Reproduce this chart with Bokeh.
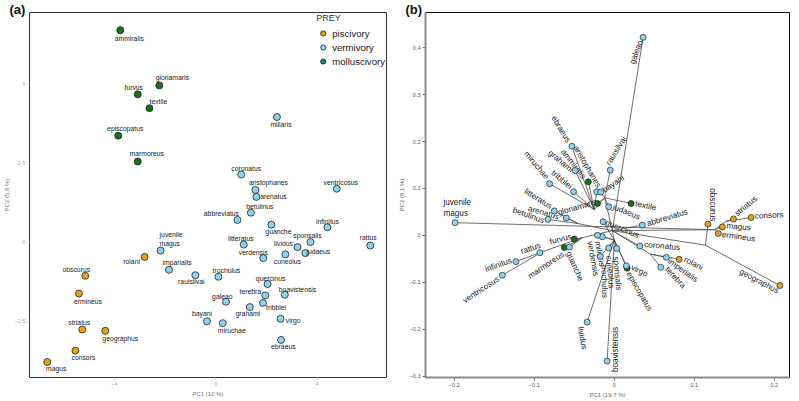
import math
from bokeh.plotting import figure
from bokeh.models import ColumnDataSource, Legend, LegendItem, Title, FixedTicker, Range1d
from bokeh.layouts import row
from bokeh.embed import file_html
from bokeh.resources import INLINE
from bokeh.core.properties import value

# ---------------- data ----------------
species = ["ammiralis", "gloriamaris", "furvus", "textile", "episcopatus", "marmoreus",
           "rolani", "obscurus", "ermineus", "striatus", "geographus", "consors", "magus",
           "juvenile magus", "imperialis", "rauisilvai", "miliaris", "coronatus", "aristophanes",
           "arenatus", "ventricosus", "betulinus", "abbreviatus", "guanche", "infinitus",
           "sponsalis", "rattus", "litteratus", "lividus", "judaeus", "cuneolus", "verdensis",
           "trochulus", "quercinus", "terebra", "boavistensis", "galeao", "grahami", "tribblei",
           "bayani", "miruchae", "virgo", "ebraeus"]
labels_a = [s if s != "imperialis" else "imparialis" for s in species]

diet = (["molluscivory"] * 6) + (["piscivory"] * 7) + (["vermivory"] * 30)

# panel (a): PCA scores
pc1 = [-3.77, -2.23, -3.08, -2.62, -3.85, -3.08,
       -2.81, -5.15, -5.40, -5.27, -4.36, -5.54, -6.65,
       -2.18, -1.85, -0.81, 2.41, 1.00, 1.56, 1.60, 4.77,
       1.38, 0.85, 2.19, 4.40, 3.73, 6.09, 1.10, 3.22, 3.53,
       2.74, 1.87, 0.10, 2.04, 1.95, 2.72, 0.40, 1.34, 1.86,
       -0.35, 0.27, 2.55, 2.57]
pc2 = [6.72, 4.97, 4.69, 4.25, 3.38, 2.56,
       -0.46, -1.06, -1.62, -2.76, -2.80, -3.43, -3.79,
       -0.26, -0.87, -1.04, 3.97, 2.15, 1.66, 1.44, 1.70,
       0.94, 0.71, 0.56, 0.48, 0.01, -0.10, -0.07, -0.15, -0.34,
       -0.38, -0.50, -1.09, -1.32, -1.68, -1.66, -1.88, -2.05, -1.92,
       -2.50, -2.56, -2.42, -3.09]

# panel (b): phylomorphospace tip scores
ph1 = [-0.0325, -0.021, -0.050, 0.021, 0.016, -0.0625,
       0.081, 0.117, 0.130, 0.149, 0.207, 0.171, 0.135,
       -0.199, 0.065, -0.005, -0.015, 0.032, -0.022, -0.060, -0.140,
       -0.083, 0.035, -0.056, -0.123, 0.003, -0.093, -0.075, -0.034, -0.007,
       -0.007, -0.021, -0.0175, -0.014, 0.058, -0.009, 0.036, -0.049, -0.051,
       -0.017, -0.081, 0.015, -0.053]
ph2 = [0.114, 0.068, -0.008, 0.068, -0.070, -0.026,
       -0.051, 0.024, 0.004, 0.035, -0.107, 0.038, 0.018,
       0.027, -0.047, 0.139, -0.003, -0.023, 0.093, 0.037, -0.085,
       0.034, 0.022, -0.025, -0.056, -0.028, -0.037, 0.052, -0.185, 0.061,
       -0.027, 0.000, -0.045, 0.029, -0.068, -0.268, 0.422, 0.138, 0.093,
       0.092, 0.110, -0.065, 0.190]

# internal nodes (ancestral estimates) and tree topology (child -> parent)
node_names = ["R", "O1", "O2", "O3", "P1", "U1", "U3", "L1", "L2", "L3", "M1"]
node_x = [-0.0025, 0.114, 0.140, 0.125, 0.045, -0.012, -0.025, -0.045, -0.040, -0.090, 0.000]
node_y = [0.010, -0.021, 0.030, 0.012, -0.040, 0.080, 0.055, 0.025, -0.005, -0.035, -0.010]
parent = {
    "ammiralis": "U3", "gloriamaris": "U1", "furvus": "L2", "textile": "U1", "episcopatus": "M1",
    "marmoreus": "L2", "rolani": "P1", "obscurus": "O1", "ermineus": "O3", "striatus": "O2",
    "geographus": "O1", "consors": "O2", "magus": "O3", "juvenile magus": "O3",
    "imperialis": "P1", "rauisilvai": "U1", "miliaris": "M1", "coronatus": "R",
    "aristophanes": "U3", "arenatus": "L1", "ventricosus": "L3", "betulinus": "L1",
    "abbreviatus": "R", "guanche": "L2", "infinitus": "L3", "sponsalis": "M1", "rattus": "L3",
    "litteratus": "L1", "lividus": "M1", "judaeus": "U1", "cuneolus": "M1", "verdensis": "M1",
    "trochulus": "M1", "quercinus": "M1", "terebra": "P1", "boavistensis": "M1", "galeao": "R",
    "grahami": "U3", "tribblei": "U3", "bayani": "U1", "miruchae": "U3", "virgo": "M1",
    "ebraeus": "U3",
    "O1": "R", "O2": "O3", "O3": "R", "P1": "R", "U1": "R", "U3": "U1", "L1": "R",
    "L2": "R", "L3": "L2", "M1": "R",
}

# ---------------- styling ----------------
FONT = "Liberation Sans"
pt_color = {"piscivory": "#E2A11E", "vermivory": "#8DD2EE", "molluscivory": "#17701A"}
leg_color = {"piscivory": "#E09F1A", "vermivory": "#8FD3F0", "molluscivory": "#12875C"}
diet_order = ["piscivory", "vermivory", "molluscivory"]

# label placement (screen px offsets from point, y down), panel a
off_a = {
    "ammiralis": (9, 8), "gloriamaris": (13, -8), "furvus": (-4, -7), "textile": (9, -7),
    "episcopatus": (7, -7), "marmoreus": (9, -8), "rolani": (-13, 5), "obscurus": (-9, -6.5),
    "ermineus": (9, 7.5), "striatus": (-3, -6.7), "geographus": (15, 7.4), "consors": (8, 6.5),
    "magus": (9, 6.4), "imperialis": (8, -7), "rauisilvai": (-4, 6.5), "miliaris": (4, 7),
    "coronatus": (5, -6), "aristophanes": (13, -7), "arenatus": (17, 0), "ventricosus": (4, -6),
    "betulinus": (9, -6), "abbreviatus": (-16, -6), "guanche": (7, 7), "infinitus": (0, -5.5),
    "sponsalis": (-3, -6.7), "rattus": (-2, -7.6), "litteratus": (-3, -5.6), "lividus": (-14, -3.4),
    "judaeus": (13, -1.7), "cuneolus": (2, 6.7), "verdensis": (-10, -5.7), "trochulus": (8, -6),
    "quercinus": (3, -6), "terebra": (-15, -4.4), "boavistensis": (12.7, -5.7), "galeao": (-3.7, -5.3),
    "grahami": (-2, 6.7), "tribblei": (13, 5), "bayani": (-5, -7.3), "miruchae": (9, 7),
    "virgo": (12.7, 2), "ebraeus": (2.3, 7),
}
# panel b: (dx, dy, angle in degrees)
off_b = {
    "galeao": (-6.7, 14.7, 70), "rauisilvai": (6, -19.3, 58), "bayani": (12.6, -8.3, 35),
    "ebraeus": (-11, -17, -59), "grahami": (-14.4, -9.3, -40), "tribblei": (-11.8, -11.8, -40),
    "miruchae": (-13, -18.5, -50), "aristophanes": (-9.5, -25, -60), "ammiralis": (-15, -17.7, -52),
    "litteratus": (-16, -12, -32), "arenatus": (-22.7, -5.2, -16), "betulinus": (-19.4, -4, -20),
    "gloriamaris": (-20.3, 3.8, 16), "judaeus": (17.7, 5.3, -22), "textile": (14.6, 2.4, -12),
    "abbreviatus": (25, -7.3, 17), "quercinus": (19, 7.2, -22), "verdensis": (-4.6, 23.3, -80),
    "miliaris": (-2.7, 17, -80), "cuneolus": (1.3, 24, -85), "sponsalis": (0.6, 25, -85),
    "trochulus": (4, 25, -88), "imperialis": (16.6, 13, -35), "terebra": (14.7, 10.3, -47),
    "virgo": (13, 5, -25), "episcopatus": (12.3, 23.3, -60), "boavistensis": (8.3, -11.6, 90),
    "coronatus": (22.2, 0, -5), "ventricosus": (-21.3, 14.6, 33), "infinitus": (-17.4, 3.4, 20),
    "rattus": (-9.2, -4.3, 19), "guanche": (5.3, 19.3, -66), "lividus": (-4.7, 16, -80),
    "furvus": (-13.6, 0, 15), "marmoreus": (-18.3, 17.7, 34), "obscurus": (4.4, -19.3, -90),
    "striatus": (12.4, -12.7, 40), "consors": (18, -2, 3), "magus": (16.3, 0, -5),
    "ermineus": (20.3, 3.3, -8), "geographus": (-20.6, -4.3, -28), "rolani": (14.3, 4.3, -27),
}

H = 400
TOP_A, TOP_B, BOT = 10, 12, 20


def style_axes(p, tick_color, label_color):
    for ax in (p.xaxis, p.yaxis):
        ax.major_label_text_font = FONT
        ax.major_label_text_font_size = "5.5px"
        ax.major_label_text_color = tick_color
        ax.axis_label_text_font = FONT
        ax.axis_label_text_font_size = "6px"
        ax.axis_label_text_font_style = "normal"
        ax.axis_label_text_color = label_color
        ax.minor_tick_line_color = None
        ax.axis_label_standoff = 2
        ax.major_label_standoff = 2


def panel_tag(text, offset):
    return Title(text=text, align="left", offset=offset, standoff=-8,
                 text_font=FONT, text_font_size="13px", text_font_style="bold",
                 text_color="#111111")


# ---------------- panel (a) ----------------
xr_a = Range1d(-7.35, 6.73)
yr_a = Range1d(-4.28, 7.28)
pa = figure(width=395, height=H, output_backend="svg", toolbar_location=None,
            x_range=xr_a, y_range=yr_a,
            min_border_top=TOP_A, min_border_right=9, min_border_left=0, min_border_bottom=BOT)
pa.xgrid.grid_line_color = None
pa.ygrid.grid_line_color = None
pa.outline_line_color = "#333333"
pa.outline_line_width = 1
pa.xaxis.axis_label = "PC1 (10 %)"
pa.yaxis.axis_label = "PC2 (5.8 %)"
pa.xaxis.ticker = FixedTicker(ticks=[-4, 0, 4])
pa.yaxis.ticker = FixedTicker(ticks=[-2.5, 0.0, 2.5, 5.0])
style_axes(pa, "#a8a8a8", "#777777")
pa.xaxis.axis_line_color = None
pa.yaxis.axis_line_color = None
for ax in (pa.xaxis, pa.yaxis):
    ax.major_tick_line_color = "#cccccc"
    ax.major_tick_out = 2
    ax.major_tick_in = 0

src_a = ColumnDataSource(dict(
    x=pc1, y=pc2, name=labels_a,
    color=[pt_color[d] for d in diet],
    dx=[off_a.get(s, (0, 0))[0] for s in species],
    dy=[off_a.get(s, (0, 0))[1] for s in species],
    txt=["" if s == "juvenile magus" else l for s, l in zip(species, labels_a)],
))
pa.scatter("x", "y", source=src_a, size=7, fill_color="color", line_color="#222222", line_width=0.8)
pa.text("x", "y", text="txt", source=src_a, x_offset="dx", y_offset="dy",
        text_align="center", text_baseline="middle", text_font=value(FONT),
        text_font_size="6.8px", text_color="#222222")
jm = species.index("juvenile magus")
pa.text(x=[pc1[jm]], y=[pc2[jm]], text=["juvenile\nmagus"], x_offset=-1, y_offset=-11.5,
        text_align="left", text_baseline="middle", text_font=value(FONT),
        text_font_size="6.8px", text_color="#222222", text_line_height=1.25)

items = []
for d in diet_order:
    # legend-only renderer, placed outside the visible range
    r = pa.scatter([-100], [-100], size=6.5, fill_color=leg_color[d], line_color="#222222", line_width=0.8)
    items.append(LegendItem(label=d, renderers=[r]))
leg = Legend(items=items, location="top_right", title="PREY",
             title_text_font=FONT, title_text_font_size="9px", title_text_font_style="normal",
             title_text_color="#333333", title_standoff=3,
             label_text_font=FONT, label_text_font_size="9.6px", label_text_color="#222222",
             border_line_color=None, background_fill_alpha=0, margin=1, padding=2,
             spacing=0, label_height=14, glyph_height=14, glyph_width=13, label_standoff=3)
pa.add_layout(leg)
pa.add_layout(panel_tag("(a)", -20), "above")

# ---------------- panel (b) ----------------
xr_b = Range1d(-0.236, 0.219)
yr_b = Range1d(-0.303, 0.475)
pb = figure(width=404, height=H, output_backend="svg", toolbar_location=None,
            x_range=xr_b, y_range=yr_b,
            min_border_top=TOP_B, min_border_right=10, min_border_left=30, min_border_bottom=BOT)
pb.xgrid.grid_line_color = None
pb.ygrid.grid_line_color = None
pb.outline_line_color = "#111111"
pb.outline_line_width = 1
pb.xaxis.axis_label = "PC1 (19.7 %)"
pb.yaxis.axis_label = "PC2 (8.1 %)"
pb.xaxis.ticker = FixedTicker(ticks=[-0.2, -0.1, 0.0, 0.1, 0.2])
pb.yaxis.ticker = FixedTicker(ticks=[-0.3, -0.2, -0.1, 0.0, 0.1, 0.2, 0.3, 0.4])
style_axes(pb, "#555555", "#666666")
for ax in (pb.xaxis, pb.yaxis):
    ax.axis_line_color = "#8a8a8a"
    ax.axis_line_width = 2
    ax.major_tick_line_color = "#777777"
    ax.major_tick_out = 3
    ax.major_tick_in = 0

pos = {s: (x, y) for s, x, y in zip(species, ph1, ph2)}
pos.update({n: (x, y) for n, x, y in zip(node_names, node_x, node_y)})
x0, y0, x1, y1 = [], [], [], []
for child, par in parent.items():
    x0.append(pos[child][0]); y0.append(pos[child][1])
    x1.append(pos[par][0]); y1.append(pos[par][1])
pb.segment(x0, y0, x1, y1, line_color="#4a4a4a", line_width=0.8)

src_b = ColumnDataSource(dict(
    x=ph1, y=ph2, color=[pt_color[d] for d in diet],
    txt=["" if s == "juvenile magus" else s for s in species],
    dx=[off_b.get(s, (0, 0, 0))[0] for s in species],
    dy=[off_b.get(s, (0, 0, 0))[1] for s in species],
    ang=[math.radians(off_b.get(s, (0, 0, 0))[2]) for s in species],
))
pb.text("x", "y", text="txt", source=src_b, x_offset="dx", y_offset="dy", angle="ang",
        text_align="center", text_baseline="middle", text_font=value(FONT),
        text_font_size="8.2px", text_color="#222222")
pb.text(x=[ph1[jm]], y=[ph2[jm]], text=["juvenile\nmagus"], x_offset=-11.7, y_offset=-14.4,
        text_align="left", text_baseline="middle", text_font=value(FONT),
        text_font_size="8.2px", text_color="#222222", text_line_height=1.2)
pb.scatter("x", "y", source=src_b, size=6, fill_color="color", line_color="#222222", line_width=0.7)
pb.add_layout(panel_tag("(b)", -20), "above")

layout = row(pa, pb)
open("out.html", "w").write(file_html(layout, INLINE))
